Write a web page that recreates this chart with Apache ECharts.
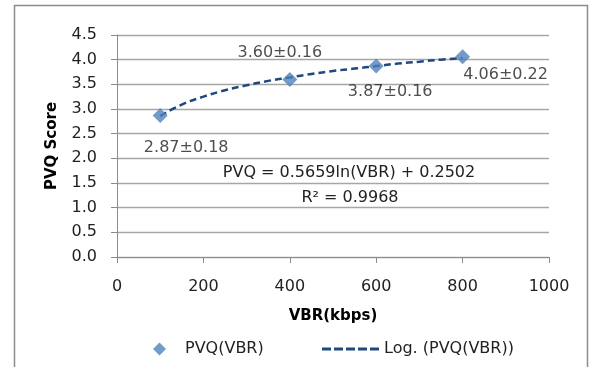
<!DOCTYPE html>
<html><head><meta charset="utf-8">
<script src="https://cdn.jsdelivr.net/npm/echarts@6/dist/echarts.min.js"></script>
<style>html,body{margin:0;padding:0;background:#fff}#c{width:590px;height:367px}</style>
</head><body><div id="c"></div>
<script>
const vbr = [100, 400, 600, 800];
const pvq = [2.87, 3.60, 3.87, 4.06];
const pvqLabels = ['2.87±0.18', '3.60±0.16', '3.87±0.16', '4.06±0.22'];
const trendX = [100, 150, 200, 250, 300, 350, 400, 450, 500, 550, 600, 650, 700, 750, 800];
const trendY = [2.86, 3.09, 3.25, 3.38, 3.48, 3.57, 3.64, 3.71, 3.77, 3.82, 3.87, 3.92, 3.96, 4.00, 4.03];
const equationText = 'PVQ = 0.5659ln(VBR) + 0.2502';
const r2Text = 'R² = 0.9968';

const FONT = 'DejaVu Sans';
const TXT = '#222';
const labelOffsets = [[26, 32], [-10, -27], [14, 26], [43, 18]];
const dashIcon = 'path://M0,0h9v3h-9z M12,0h9v3h-9z M24,0h9v3h-9z M36,0h9v3h-9z M48,0h9v3h-9z';

const chart = echarts.init(document.getElementById('c'));
chart.setOption({
  animation: false,
  textStyle: {fontFamily: FONT},
  grid: {left: 117, right: 41, top: 35, bottom: 110},
  xAxis: {
    type: 'value', min: 0, max: 1000, interval: 200,
    name: 'VBR(kbps)', nameLocation: 'middle', nameGap: 52,
    nameTextStyle: {fontFamily: FONT, fontWeight: 'bold', fontSize: 15, color: '#000'},
    axisLine: {show: true, lineStyle: {color: '#8c8c8c', width: 1}},
    axisTick: {show: true, inside: false, length: 6, lineStyle: {color: '#8c8c8c'}},
    axisLabel: {fontSize: 16, color: TXT, margin: 22, formatter: v => String(v)},
    splitLine: {show: false}
  },
  yAxis: {
    type: 'value', min: 0, max: 4.5, interval: 0.5,
    name: 'PVQ Score', nameLocation: 'middle', nameGap: 57,
    nameTextStyle: {fontFamily: FONT, fontWeight: 'bold', fontSize: 15, color: '#000'},
    axisLine: {show: true, lineStyle: {color: '#8c8c8c', width: 1}},
    axisTick: {show: true, length: 6, lineStyle: {color: '#8c8c8c'}},
    axisLabel: {fontSize: 16, color: TXT, margin: 20, formatter: v => v.toFixed(1)},
    splitLine: {show: true, lineStyle: {color: '#a6a6a6', width: 1.3}}
  },
  legend: [
    {
      left: 148, top: 336, itemWidth: 13, itemHeight: 13,
      textStyle: {fontSize: 16, color: TXT, fontFamily: FONT, padding: [0, 0, 0, 14]},
      data: [{name: 'PVQ(VBR)', icon: 'diamond'}]
    },
    {
      left: 317, top: 336, itemWidth: 57, itemHeight: 3,
      textStyle: {fontSize: 16, color: TXT, fontFamily: FONT},
      data: [{name: 'Log. (PVQ(VBR))', icon: dashIcon}]
    }
  ],
  series: [
    {
      name: 'Log. (PVQ(VBR))', type: 'line', smooth: true, symbol: 'none',
      data: trendX.map((x, i) => [x, trendY[i]]),
      lineStyle: {color: '#1f497d', width: 2.5, type: [7, 4]},
      itemStyle: {color: '#1f497d'}, z: 2
    },
    {
      name: 'PVQ(VBR)', type: 'scatter', symbol: 'diamond', symbolSize: 15,
      data: vbr.map((x, i) => ({
        value: [x, pvq[i]],
        label: {show: true, formatter: pvqLabels[i], position: 'inside', offset: labelOffsets[i],
          fontSize: 16, color: TXT, fontFamily: FONT}
      })),
      itemStyle: {color: '#4f81bd'}, z: 3
    }
  ],
  graphic: [
    {type: 'rect', shape: {x: 14.5, y: 5.5, width: 573, height: 400}, style: {fill: 'none', stroke: '#8c8c8c', lineWidth: 1.5}, silent: true},
    {type: 'text', x: 349, y: 173, style: {text: equationText, font: '16px "DejaVu Sans"', fill: TXT, textAlign: 'center', textVerticalAlign: 'middle'}},
    {type: 'text', x: 350, y: 198, style: {text: r2Text, font: '16px "DejaVu Sans"', fill: TXT, textAlign: 'center', textVerticalAlign: 'middle'}}
  ]
});
</script></body></html>
